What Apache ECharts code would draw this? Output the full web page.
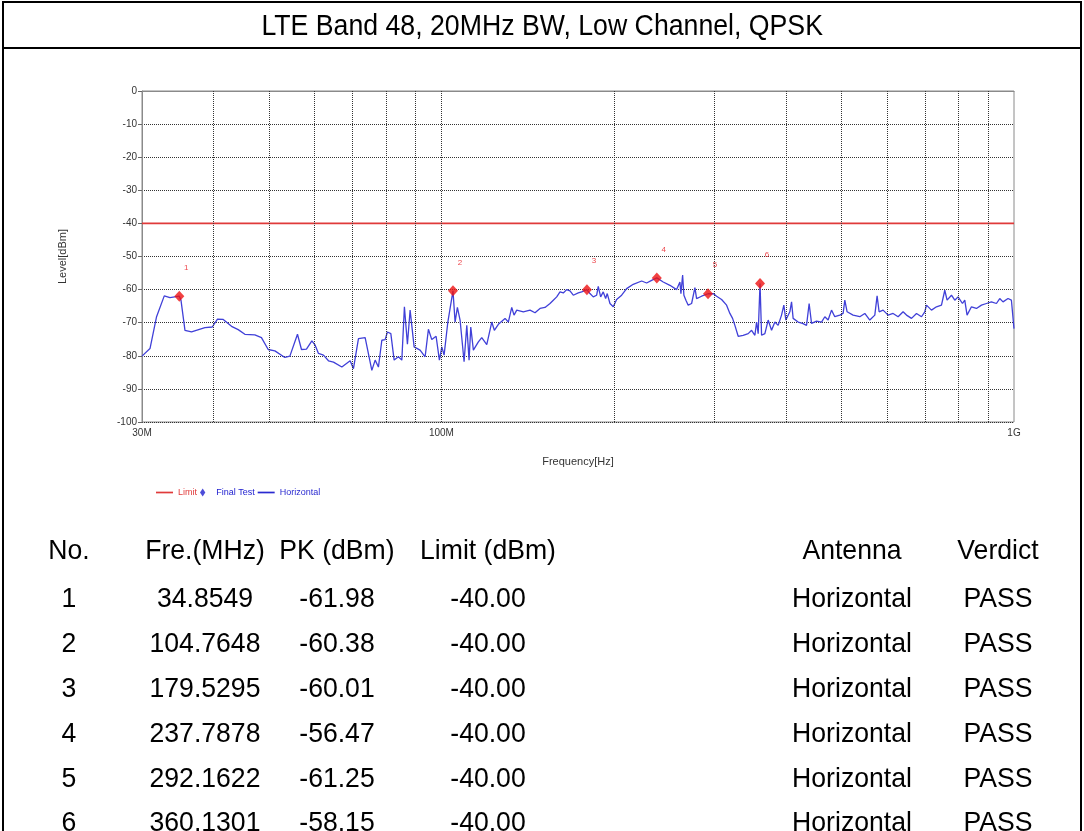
<!DOCTYPE html>
<html>
<head>
<meta charset="utf-8">
<script src="https://cdn.jsdelivr.net/npm/echarts@6/dist/echarts.min.js"></script>
<style>
    body { margin: 0; background: #fff; }
    #page { position: relative; width: 1084px; height: 831px; overflow: hidden; }
    #chart { position: absolute; left: 0; top: 0; width: 1084px; height: 831px; }
    #frame { position: absolute; left: 2px; top: 1px; width: 1076px; height: 900px;
        border: 2px solid #000; border-bottom: none; pointer-events: none; }
    #title { height: 44px; border-bottom: 2px solid #000; text-align: center; line-height: 44px;
        font-family: "Liberation Sans", Arial, sans-serif; font-size: 29px; color: #000; }
    #title span { display: inline-block; transform: scaleX(0.92); }
    .cell { position: absolute; width: 220px; text-align: center; line-height: 32px; height: 32px;
        font-family: "Liberation Sans", Arial, sans-serif; font-size: 28px; color: #000;
        transform: scaleX(0.95); }
</style>
</head>
<body>
<div id="page">
    <div id="chart"></div>
    <div id="frame"><div id="title"><span>LTE Band 48, 20MHz BW, Low Channel, QPSK</span></div></div>
    <div id="table"></div>
</div>
<script>
// 扫描曲线 (MHz / dBm)
const freqMHz = [
    30.0, 30.98, 31.81, 32.81, 33.57, 34.8549, 35.09, 35.66, 36.61, 38.64, 39.79, 40.64, 41.59, 43.0, 44.17, 45.37,
    47.23, 48.5, 49.83, 51.19, 53.29, 54.37, 56.06, 56.97, 58.12, 59.4, 60.19, 61.0, 62.24, 63.5, 64.79, 67.01,
    69.29, 70.21, 71.64, 73.59, 75.6, 76.61, 77.63, 78.7, 79.75, 80.49, 81.6, 82.69, 84.13, 85.29, 86.18, 87.23,
    88.18, 89.61, 91.79, 93.66, 94.91, 96.21, 97.89, 99.2, 100.16, 101.09, 102.59, 104.7648, 105.66, 106.64, 107.8,
    109.55, 110.75, 111.77, 112.54, 113.72, 116.03, 117.62, 120.01, 122.45, 123.73, 125.74, 129.17, 130.89, 132.69,
    133.92, 135.39, 139.02, 142.81, 145.71, 148.67, 151.69, 154.77, 156.83, 158.99, 161.11, 163.26, 165.5, 167.71,
    169.95, 173.4, 175.78, 179.5295, 181.74, 184.17, 186.7, 187.9, 189.72, 191.71, 193.57, 194.82, 196.95, 199.58,
    202.32, 206.43, 210.62, 216.29, 223.72, 228.26, 232.89, 237.7878, 244.0, 250.67, 257.51, 260.95, 262.0, 263.79,
    265.18, 267.31, 269.8, 273.51, 277.16, 279.06, 284.72, 292.1622, 298.32, 302.42, 308.56, 314.82, 319.02, 322.5,
    325.5, 329.85, 336.54, 343.38, 348.11, 352.76, 355.18, 357.47, 360.1301, 362.38, 367.21, 372.11, 377.23, 382.26,
    387.35, 392.68, 396.33, 399.53, 406.0, 408.79, 411.42, 419.78, 427.27, 434.2, 438.76, 443.0, 452.0, 461.18,
    467.33, 473.56, 480.07, 486.47, 496.36, 502.98, 506.43, 511.13, 523.6, 537.9, 548.83, 559.98, 571.35, 576.65,
    581.31, 590.73, 602.72, 614.96, 627.45, 640.19, 649.01, 662.19, 675.64, 689.36, 698.56, 703.34, 717.62, 732.19,
    747.05, 757.03, 764.06, 777.69, 788.07, 798.59, 812.82, 820.37, 827.99, 842.75, 859.85, 877.29, 895.09, 913.25,
    931.78, 944.22, 956.8, 976.21, 989.64, 1000
];
const levelDbm = [
    -80.1, -77.8, -68.2, -61.9, -62.4, -61.98, -63.2, -72.3, -72.8, -71.5, -71.3, -68.9, -69.0, -71.1, -72.1, -73.5,
    -73.7, -74.5, -78.1, -78.5, -80.5, -80.1, -73.5, -78.1, -78.0, -75.5, -76.8, -79.3, -79.8, -81.5, -81.9, -83.4,
    -81.5, -83.9, -74.8, -74.5, -84.4, -81.3, -83.4, -75.3, -75.1, -72.8, -73.3, -81.3, -80.3, -81.3, -65.2, -76.5,
    -66.2, -77.3, -78.3, -80.3, -72.0, -75.1, -74.1, -81.3, -77.3, -79.8, -70.0, -60.38, -69.8, -65.4, -69.2,
    -81.8, -70.8, -81.3, -71.3, -78.3, -75.8, -74.5, -76.6, -69.8, -72.3, -70.5, -68.7, -69.8, -65.4,
    -67.7, -66.2, -66.7, -66.2, -67.0, -65.7, -65.4, -64.2, -63.2, -62.2, -60.7, -61.0, -60.0, -60.4,
    -61.7, -61.0, -60.7, -60.01, -61.2, -62.2, -61.7, -59.0, -62.2, -60.7, -62.7, -61.2, -64.2, -65.2,
    -63.0, -61.7, -59.7, -58.4, -57.4, -58.0, -57.2, -56.47, -57.7, -58.7, -60.0, -57.7, -61.2, -55.6,
    -61.7, -63.2, -64.7, -64.2, -59.4, -62.7, -62.0, -61.25, -61.2, -62.0, -63.0, -64.7, -67.2, -68.7,
    -70.8, -74.1, -73.8, -73.3, -72.3, -73.8, -69.8, -73.3, -58.15, -73.8, -73.3, -69.2, -72.3, -69.8,
    -70.8, -67.7, -64.7, -69.2, -66.7, -63.7, -68.7, -69.8, -70.2, -70.8, -64.2, -70.2, -69.5, -69.8,
    -68.2, -69.2, -66.2, -68.2, -67.7, -67.2, -63.2, -66.7, -67.7, -68.2, -67.2, -69.2, -67.7, -61.9,
    -66.7, -66.2, -67.7, -67.2, -68.2, -66.7, -67.7, -68.7, -67.2, -68.2, -66.7, -64.7, -66.2, -65.2,
    -64.7, -60.2, -63.2, -61.7, -63.2, -62.2, -64.2, -63.2, -67.7, -65.2, -65.7, -64.7, -64.2, -63.7,
    -64.2, -62.7, -63.7, -62.7, -63.2, -71.8
];

// 峰值点
const markerNo = [1, 2, 3, 4, 5, 6];
const markerFreq = [34.8549, 104.7648, 179.5295, 237.7878, 292.1622, 360.1301];
const markerPk = [-61.98, -60.38, -60.01, -56.47, -61.25, -58.15];
const markerAntenna = ['Horizontal', 'Horizontal', 'Horizontal', 'Horizontal', 'Horizontal', 'Horizontal'];
const markerVerdict = ['PASS', 'PASS', 'PASS', 'PASS', 'PASS', 'PASS'];

// 限值
const limitFreq = [30, 1000];
const limitDbm = [-40, -40];

// 刻度
const xLabelValues = [30, 100, 1000];
const xGridFreq = [40, 50, 60, 70, 80, 90, 100, 200, 300, 400, 500, 600, 700, 800, 900];

// 表头
const tableHead = ['No.', 'Fre.(MHz)', 'PK (dBm)', 'Limit (dBm)', 'Antenna', 'Verdict'];

const FONT = '"Liberation Sans", Arial, sans-serif';
const LINE_ICON = 'path://M0,0L20,0L20,2L0,2Z';
const DIAMOND_ICON = 'path://M3,0L6,4.5L3,9L0,4.5Z';

const myChart = echarts.init(document.getElementById('chart'));
const option = {
    animation: false,
    textStyle: { fontFamily: FONT },
    grid: {
        left: 142, right: 70, top: 91, bottom: 409,
        show: true, borderColor: '#8a8a8a', borderWidth: 1
    },
    legend: {
        left: 151, top: 483,
        itemWidth: 17, itemHeight: 8, itemGap: 3,
        textStyle: { fontSize: 9, fontFamily: FONT },
        data: [
            { name: 'Limit', icon: LINE_ICON, itemStyle: { color: '#e03a3a' }, textStyle: { color: '#e03a3a' } },
            { name: 'Final Test', icon: DIAMOND_ICON, itemStyle: { color: '#2020d0' }, textStyle: { color: '#2020d0' } },
            { name: 'Horizontal', icon: LINE_ICON, itemStyle: { color: '#2a2ad0' }, textStyle: { color: '#2a2ad0' } }
        ]
    },
    xAxis: {
        type: 'log',
        logBase: 10,
        min: 30,
        max: 1000,
        name: 'Frequency[Hz]',
        nameLocation: 'middle',
        nameGap: 34,
        nameTextStyle: { fontSize: 11, color: '#333', fontFamily: FONT },
        axisLine: { show: true, lineStyle: { color: '#8a8a8a' } },
        axisTick: { show: false },
        splitLine: { show: false },
        axisLabel: {
            customValues: xLabelValues,
            color: '#333',
            fontSize: 10,
            margin: 6,
            formatter: function (v) {
                return v >= 1000 ? (v / 1000) + 'G' : v + 'M';
            }
        }
    },
    yAxis: {
        type: 'value',
        min: -100,
        max: 0,
        interval: 10,
        name: 'Level[dBm]',
        nameLocation: 'middle',
        nameGap: 74,
        nameRotate: 90,
        nameTextStyle: { fontSize: 11, color: '#333', fontFamily: FONT },
        axisLine: { show: true, lineStyle: { color: '#8a8a8a' } },
        axisTick: { show: true, length: 4, lineStyle: { color: '#666' } },
        axisLabel: { color: '#333', fontSize: 10, margin: 5 },
        splitLine: { show: true, lineStyle: { color: '#333', type: 'dotted', width: 1 } }
    },
    series: [
        {
            name: 'Limit',
            type: 'line',
            z: 2,
            data: limitFreq.map((f, i) => [f, limitDbm[i]]),
            showSymbol: false,
            lineStyle: { color: '#e03a3a', width: 1.6 },
            itemStyle: { color: '#e03a3a' },
            // 对数网格线
            markLine: {
                silent: true,
                symbol: ['none', 'none'],
                label: { show: false },
                lineStyle: { color: '#333', type: 'dotted', width: 1 },
                data: xGridFreq.map(f => ({ xAxis: f }))
            }
        },
        {
            name: 'Horizontal',
            type: 'line',
            z: 3,
            data: freqMHz.map((f, i) => [f, levelDbm[i]]),
            showSymbol: false,
            lineStyle: { color: '#4040d8', width: 1.3 },
            itemStyle: { color: '#2a2ad0' }
        },
        {
            name: 'Final Test',
            type: 'scatter',
            z: 4,
            symbol: 'diamond',
            symbolSize: [10, 11],
            itemStyle: { color: '#ee1111' },
            data: markerFreq.map((f, i) => [f, markerPk[i], markerNo[i]]),
            label: {
                show: true,
                position: 'top',
                offset: [7, -14],
                color: '#e8141b',
                fontSize: 8,
                formatter: p => String(p.data[2])
            }
        }
    ]
};
myChart.setOption(option);

// 数据表
const colCenter = [69, 205, 337, 488, 852, 998];
const rowCenter = [550, 598, 643, 688, 733, 778, 822];
const table = document.getElementById('table');
function addCell(text, col, row) {
    const d = document.createElement('div');
    d.className = 'cell';
    d.textContent = text;
    d.style.left = (colCenter[col] - 110) + 'px';
    d.style.top = (rowCenter[row] - 16) + 'px';
    table.appendChild(d);
}
tableHead.forEach((h, c) => addCell(h, c, 0));
markerNo.forEach((n, i) => {
    addCell(String(n), 0, i + 1);
    addCell(markerFreq[i].toFixed(4), 1, i + 1);
    addCell(markerPk[i].toFixed(2), 2, i + 1);
    addCell(limitDbm[0].toFixed(2), 3, i + 1);
    addCell(markerAntenna[i], 4, i + 1);
    addCell(markerVerdict[i], 5, i + 1);
});
</script>
</body>
</html>
